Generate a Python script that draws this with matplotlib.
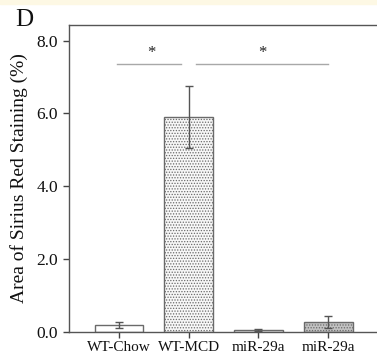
import matplotlib.pyplot as plt
from matplotlib.patches import Rectangle

# data
groups = ["WT-Chow", "WT-MCD", "miR-29a", "miR-29a"]
means = [0.19, 5.91, 0.06, 0.28]
errors = [0.09, 0.85, 0.02, 0.17]
face_colors = ["white", "#f7f7f7", "white", "#c2c2c2"]
hatches = [None, "......", None, "......"]
hatch_colors = ["#888888", "#d0d0d0", "#888888", "#a6a6a6"]

# significance brackets: (x start, x end, star x, y)
sig_lines = [(-0.03, 0.89, 0.47, 7.37), (1.10, 3.00, 2.05, 7.37)]

plt.rcParams["font.family"] = ["Liberation Serif", "DejaVu Serif"]
plt.rcParams["hatch.linewidth"] = 0.6

fig = plt.figure(figsize=(3.77, 3.57), dpi=100)
ax = fig.add_axes([69 / 377, 25 / 357, 308 / 377, 307 / 357])

x = list(range(len(groups)))
for i in x:
    plt.rcParams["hatch.color"] = hatch_colors[i]
    ax.bar(i, means[i], width=0.7, color=face_colors[i], edgecolor="#6a6a6a",
           linewidth=1.0, hatch=hatches[i], zorder=2)
ax.errorbar(x, means, yerr=errors, fmt="none", ecolor="#555555",
            elinewidth=1.0, capsize=2.6, capthick=1.0, zorder=3)

for x0, x1, xs, y in sig_lines:
    ax.plot([x0, x1], [y, y], color="#a8a8a8", lw=1.0, zorder=1)
    ax.text(xs, y + 0.06, "*", ha="center", va="bottom", fontsize=12,
            color="#222222")

ax.set_xlim(-0.716, 3.70)
ax.set_ylim(0, 8.43)
ax.set_yticks([0, 2, 4, 6, 8])
ax.set_yticklabels(["0.0", "2.0", "4.0", "6.0", "8.0"])
ax.set_xticks(x)
ax.set_xticklabels(groups)
ax.tick_params(axis="both", direction="out", length=4, width=1.0,
               color="#444444", labelsize=12.5, labelcolor="#111111")
ax.tick_params(axis="y", pad=4)
ax.tick_params(axis="x", pad=2.5, labelsize=11)

for side in ["left", "bottom", "top"]:
    ax.spines[side].set_color("#555555")
    ax.spines[side].set_linewidth(1.0)
ax.spines["right"].set_visible(False)

ax.set_ylabel("Area of Sirius Red Staining (%)", fontsize=14, color="#111111",
              labelpad=6)

fig.text(15 / 377, 1 - 20 / 357, "D", fontsize=18, va="center", ha="left",
         color="#111111")
fig.patches.append(Rectangle((0, 1 - 4 / 357), 1, 4 / 357,
                             transform=fig.transFigure, color="#fdf8e4",
                             zorder=0))

plt.savefig("out.png", dpi=100)
